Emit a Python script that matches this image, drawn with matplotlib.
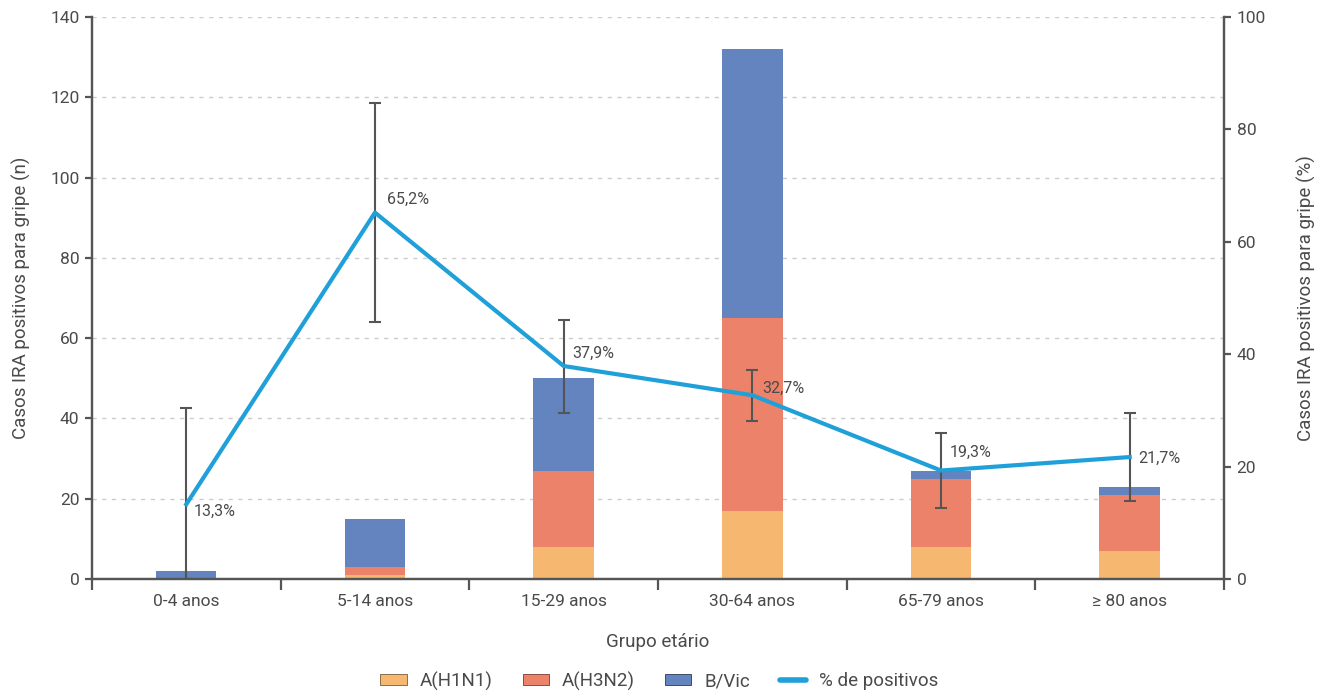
import matplotlib
matplotlib.use("Agg")
import matplotlib.pyplot as plt
import numpy as np
from matplotlib.lines import Line2D
from matplotlib.patches import Patch

plt.rcParams['font.family'] = ['Roboto', 'DejaVu Sans']

# Data
groups = ["0-4 anos", "5-14 anos", "15-29 anos", "30-64 anos", "65-79 anos", "≥ 80 anos"]
h1n1 = [0, 1, 8, 17, 8, 7]
h3n2 = [0, 2, 19, 48, 17, 14]
bvic = [2, 12, 23, 67, 2, 2]
pct_pos = [13.3, 65.2, 37.9, 32.7, 19.3, 21.7]
ci_low = [0.0, 45.8, 29.5, 28.2, 12.7, 13.9]
ci_high = [30.5, 84.7, 46.1, 37.2, 25.9, 29.5]

c_h1 = "#F6B870"
c_h3 = "#EC826A"
c_b = "#6384BF"
c_line = "#1FA0D9"
c_axis = "#555555"
c_text = "#4a4a4a"
weight = 'normal'

fig = plt.figure(figsize=(13.27, 6.97), dpi=100)
ax = fig.add_axes([0.0693, 0.1693, 0.8531, 0.8063])
ax2 = ax.twinx()

x = np.arange(len(groups))
w = 0.32
h1 = np.array(h1n1)
h3 = np.array(h3n2)
bv = np.array(bvic)
ax.bar(x, h1, w, color=c_h1, zorder=2)
ax.bar(x, h3, w, bottom=h1, color=c_h3, zorder=2)
ax.bar(x, bv, w, bottom=h1 + h3, color=c_b, zorder=2)

ax.set_xlim(-0.5, len(groups) - 0.5)
ax.set_ylim(0, 140)
ax.set_yticks(np.arange(0, 141, 20))
ax.grid(axis='y', color='#cccccc', linestyle=(0, (3, 4)), linewidth=1, zorder=0)
ax.set_axisbelow(True)

ax2.set_ylim(0, 100)
ax2.set_yticks(np.arange(0, 101, 20))

# percentage line with confidence intervals
pct = np.array(pct_pos)
lo = np.array(ci_low)
hi = np.array(ci_high)
ax2.errorbar(x, pct, yerr=[pct - lo, hi - pct], fmt='none', ecolor=c_axis,
             elinewidth=1.5, capsize=4, capthick=1.5, zorder=3)
ax2.plot(x, pct, color=c_line, linewidth=3, zorder=4)

label_offsets = [(5, -5), (9, 9.4), (6.5, 9.4), (7, 5), (6.5, 13), (6, -0.7)]
for xi, p, (dx, dy) in zip(x, pct, label_offsets):
    ax2.annotate(f"{p:.1f}%".replace('.', ','), (xi, p), xytext=(dx, dy),
                 textcoords='offset points', fontsize=11.5, color=c_text,
                 fontweight=weight, va='center', ha='left', zorder=5)

for a in (ax, ax2):
    a.spines['top'].set_visible(False)
    for s in ('left', 'right', 'bottom'):
        a.spines[s].set_color(c_axis)
        a.spines[s].set_linewidth(1.6)
    a.tick_params(axis='y', colors=c_axis, labelcolor=c_text, labelsize=12.5,
                  length=5, width=1.6, pad=4)

ax.set_xticks(x)
ax.set_xticklabels(groups)
ax.tick_params(axis='x', which='major', length=0, pad=11, labelsize=12.5, labelcolor=c_text)
ax.set_xticks(np.arange(-0.5, len(groups) + 0.5, 1), minor=True)
ax.tick_params(axis='x', which='minor', length=8, width=1.6, color=c_axis, direction='out')

for lab in ax.get_xticklabels() + ax.get_yticklabels() + ax2.get_yticklabels():
    lab.set_fontweight(weight)

ax.set_ylabel("Casos IRA positivos para gripe (n)", fontsize=13.5, color=c_text,
              fontweight=weight, labelpad=14)
ax2.set_ylabel("Casos IRA positivos para gripe (%)", fontsize=13.5, color=c_text,
               fontweight=weight, labelpad=22)
ax.set_xlabel("Grupo etário", fontsize=13.5, color=c_text, fontweight=weight, labelpad=17)

handles = [
    Patch(facecolor=c_h1, edgecolor='#7a5a3a', linewidth=0.6, label="A(H1N1)"),
    Patch(facecolor=c_h3, edgecolor='#7a3a30', linewidth=0.6, label="A(H3N2)"),
    Patch(facecolor=c_b, edgecolor='#2a3a5a', linewidth=0.6, label="B/Vic"),
    Line2D([0], [0], color=c_line, linewidth=4, solid_capstyle='round', label="% de positivos"),
]
leg = fig.legend(handles=handles, loc='center', bbox_to_anchor=(0.497, 0.023), ncol=4,
                 frameon=False, fontsize=13.5, handlelength=1.4, handleheight=0.55,
                 columnspacing=1.6, handletextpad=0.7)
for t in leg.get_texts():
    t.set_color(c_text)
    t.set_fontweight(weight)

fig.savefig("out.png", dpi=100)
